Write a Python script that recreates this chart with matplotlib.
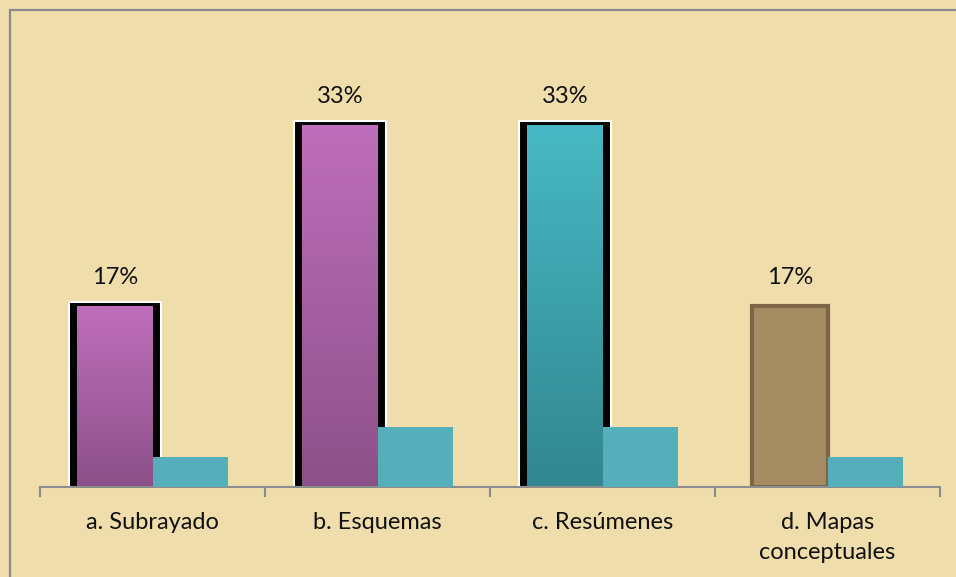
import matplotlib
matplotlib.use("Agg")
import matplotlib.pyplot as plt
import matplotlib.patches as mpatches
import numpy as np
from matplotlib.colors import LinearSegmentedColormap

categories = ["a. Subrayado", "b. Esquemas", "c. Resúmenes", "d. Mapas\nconceptuales"]
percent = [0.1667, 0.3333, 0.3333, 0.1667]
counts = [1, 2, 2, 1]

# gradient (top, bottom) per bar of the percentage series; None = flat fill
grad_colors = [("#BE6EBA", "#8C5189"), ("#BE6EBA", "#8C5189"),
               ("#47B8C3", "#328790"), None]
flat_fill = "#A68C62"
flat_edge = "#7D6645"
count_color = "#55AFBA"
bg = "#EFDDAC"

plt.rcParams["font.family"] = ["Lato", "DejaVu Sans"]

fig = plt.figure(figsize=(9.56, 5.77), dpi=100, facecolor=bg)
W, H = 956, 577
ax = fig.add_axes([40 / W, 1 - 487 / H, 900 / W, 447 / H])
ax.set_facecolor("none")

# outer frame
fig.patches.append(mpatches.Rectangle((10 / W, -0.02), 1.0, 1 - 10 / H + 0.02,
                                      transform=fig.transFigure, fill=False,
                                      edgecolor="#8A8A8A", linewidth=1.6))

x = np.arange(len(categories))
w = 0.335
off = w / 2

ax.set_xlim(-0.5, len(categories) - 0.5)
ax.set_ylim(0, 0.412)

for i, (xi, v) in enumerate(zip(x, percent)):
    g = grad_colors[i]
    if g is None:
        ax.bar(xi - off, v, width=w, color=flat_fill, edgecolor=flat_edge,
               linewidth=3, zorder=2)
        continue
    # black shadow frame with white outline
    ax.bar(xi - off, v + 0.004, width=w + 0.075, color="black",
           edgecolor="white", linewidth=1.5, zorder=1)
    bar = ax.bar(xi - off, v, width=w, color=g[1], linewidth=0, zorder=2)[0]
    cmap = LinearSegmentedColormap.from_list("g%d" % i, [g[1], g[0]])
    img = ax.imshow(np.linspace(0, 1, 100).reshape(-1, 1), cmap=cmap,
                    extent=[xi - off - w / 2, xi - off + w / 2, 0, v],
                    origin="lower", aspect="auto", zorder=2.5)
    img.set_clip_path(bar)

for xi, v in zip(x, percent):
    ax.annotate(f"{v:.0%}", (xi - off, v), xytext=(0, 13),
                textcoords="offset points", ha="center", va="bottom",
                fontsize=17, color="#111111")

ax2 = ax.twinx()
ax2.set_ylim(0, 14.9)
ax2.bar(x + off, counts, width=w, color=count_color, zorder=3)
ax2.axis("off")

ax.set_xlim(-0.5, len(categories) - 0.5)
ax.set_xticks(np.arange(len(categories) + 1) - 0.5)
ax.set_xticklabels([])
ax.set_xticks(x, minor=True)
ax.set_xticklabels(categories, minor=True, fontsize=17, color="#111111",
                   linespacing=1.55)
ax.tick_params(axis="x", which="major", length=7, width=1.5, color="#8C8C8C")
ax.tick_params(axis="x", which="minor", length=0, pad=18)
ax.set_yticks([])
for s in ["left", "right", "top"]:
    ax.spines[s].set_visible(False)
ax.spines["bottom"].set_color("#8C8C8C")
ax.spines["bottom"].set_linewidth(1.5)
ax.spines["bottom"].set_zorder(5)

fig.savefig("out.png", dpi=100, facecolor=bg)
